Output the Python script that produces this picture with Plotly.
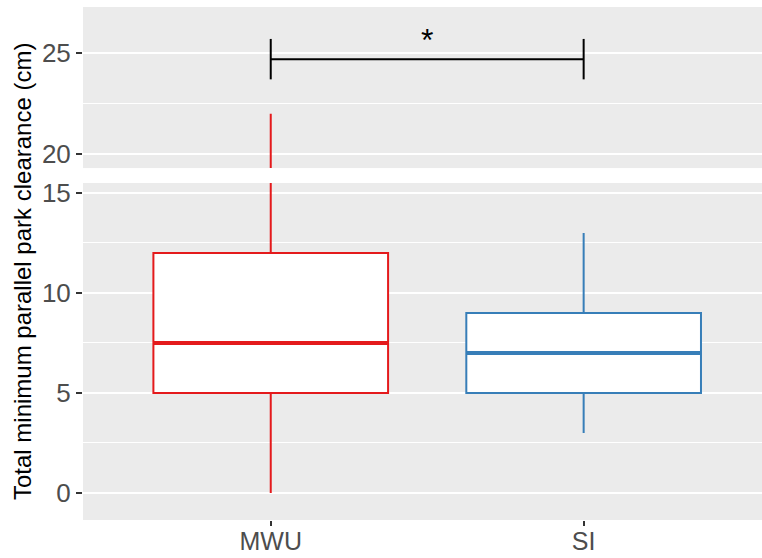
import plotly.graph_objects as go
from plotly.subplots import make_subplots

# Summary statistics for each group (cm)
groups = ["MWU", "SI"]
positions = [1, 2]
colors = ["#E41A1C", "#377EB8"]
lower_whisker = [0, 3]
q1 = [5, 5]
median = [7.5, 7]
q3 = [12, 9]
upper_whisker = [22, 13]

# Significance bracket between the two groups
bracket_y = 24.7
bracket_tick = 1.0
bracket_label = "*"

box_width = 0.75
FONT = "Liberation Sans, Arial"

fig = make_subplots(rows=2, cols=1, shared_xaxes=False, vertical_spacing=0.0)

for row in (1, 2):
    for i, g in enumerate(groups):
        fig.add_trace(go.Box(
            x=[positions[i]], q1=[q1[i]], median=[median[i]], q3=[q3[i]],
            lowerfence=[lower_whisker[i]], upperfence=[upper_whisker[i]],
            name=g, width=box_width, boxpoints=False, whiskerwidth=0,
            fillcolor="white", line=dict(color=colors[i], width=2),
            showlegend=False, hoverinfo="skip",
        ), row=row, col=1)
        # thicker median bar
        fig.add_trace(go.Scatter(
            x=[positions[i] - box_width / 2, positions[i] + box_width / 2],
            y=[median[i], median[i]], mode="lines",
            line=dict(color=colors[i], width=4), showlegend=False, hoverinfo="skip",
        ), row=row, col=1)

# bracket
x0, x1 = positions
fig.add_trace(go.Scatter(
    x=[x0, x0, None, x0, x1, None, x1, x1],
    y=[bracket_y - bracket_tick, bracket_y + bracket_tick, None,
       bracket_y, bracket_y, None,
       bracket_y - bracket_tick, bracket_y + bracket_tick],
    mode="lines", line=dict(color="black", width=2),
    showlegend=False, hoverinfo="skip",
), row=1, col=1)
fig.add_annotation(x=(x0 + x1) / 2, y=bracket_y + 0.95, text=bracket_label,
                   showarrow=False, xref="x", yref="y",
                   font=dict(size=32, color="black", family=FONT))

xr = [0.4, 2.57]
common_y = dict(
    showgrid=True, gridcolor="white", gridwidth=1.6, zeroline=False,
    ticks="outside", ticklen=6, tickwidth=1.5, tickcolor="#333333",
    tickfont=dict(size=26, color="#4D4D4D", family=FONT),
    dtick=5, tick0=0, automargin=False,
    minor=dict(dtick=2.5, tick0=0, showgrid=True, gridcolor="white", gridwidth=0.8),
    showline=False,
)
fig.update_layout(
    width=762, height=558,
    margin=dict(l=83, r=0, t=7, b=38),
    paper_bgcolor="white", plot_bgcolor="#EBEBEB",
    xaxis=dict(domain=[0, 1], range=xr, showgrid=False, zeroline=False,
               showticklabels=False, ticks="", automargin=False),
    xaxis2=dict(domain=[0, 1], range=xr, showgrid=False, zeroline=False,
                tickvals=positions, ticktext=groups, automargin=False,
                ticks="outside", ticklen=5, tickwidth=1.5, tickcolor="#333333",
                ticklabelstandoff=-6,
                tickfont=dict(size=25, color="#4D4D4D", family=FONT)),
    yaxis=dict(domain=[0.686, 1.0], range=[19.31, 27.28], **common_y),
    yaxis2=dict(domain=[0.0, 0.657], range=[-1.35, 15.5], **common_y),
)

fig.add_annotation(
    text="Total minimum parallel park clearance (cm)",
    xref="paper", yref="paper", x=-0.0898, y=0.4834,
    textangle=-90, showarrow=False, xanchor="center", yanchor="middle",
    font=dict(size=24, color="black", family=FONT),
)

fig.write_html("out.html")
